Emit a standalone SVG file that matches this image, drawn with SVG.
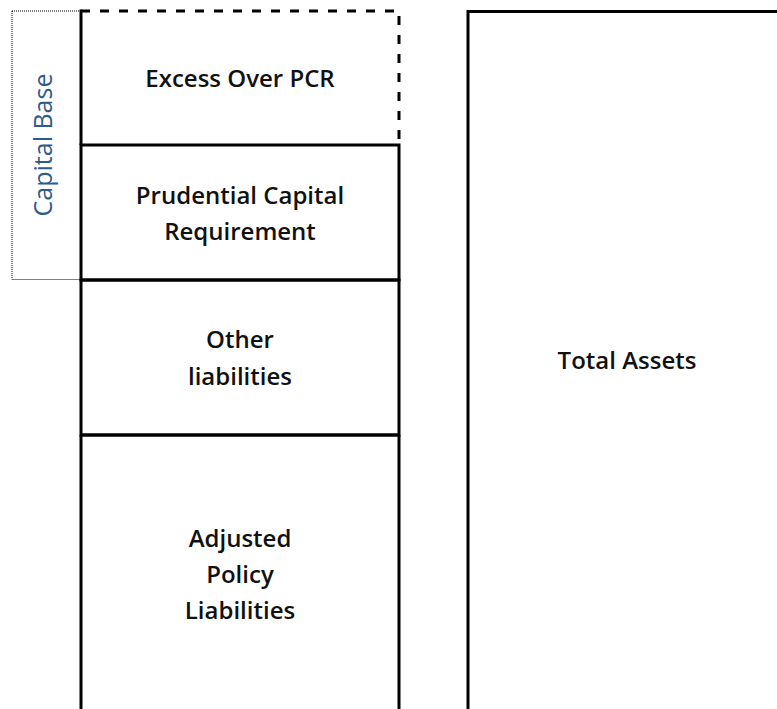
<svg xmlns="http://www.w3.org/2000/svg" width="777" height="709" viewBox="0 0 777 709">
<style>
.box{fill:none;stroke:#000;stroke-width:3}
.lbl{font-family:"Open Sans","Liberation Sans",sans-serif;font-size:24px;fill:#111;text-anchor:middle;font-weight:600}
.cap{font-family:"Open Sans","Liberation Sans",sans-serif;font-size:25px;fill:#2E5A8C;text-anchor:middle}
</style>
<rect width="777" height="709" fill="#fff"/>
<g id="capital-base">
<rect x="12" y="11" width="69" height="268.5" fill="none" stroke="#000" stroke-width="1" stroke-dasharray="1,1"/>
<text class="cap" transform="translate(52,145) rotate(-90)">Capital Base</text>
</g>
<g id="excess">
<path d="M81,11 H399 V145" fill="none" stroke="#000" stroke-width="3" stroke-dasharray="9,10"/>
<text class="lbl" x="240" y="87">Excess Over PCR</text>
</g>
<g id="pcr">
<rect class="box" x="81" y="145" width="318" height="135"/>
<text class="lbl" x="240" y="204">Prudential Capital</text>
<text class="lbl" x="240" y="240">Requirement</text>
</g>
<g id="other">
<rect class="box" x="81" y="280" width="318" height="155"/>
<text class="lbl" x="240" y="348">Other</text>
<text class="lbl" x="240" y="385">liabilities</text>
</g>
<g id="apl">
<path class="box" d="M81,435 H399 M81,435 V712 M399,435 V712"/>
<text class="lbl" x="240" y="547">Adjusted</text>
<text class="lbl" x="240" y="583">Policy</text>
<text class="lbl" x="240" y="619">Liabilities</text>
</g>
<g id="left-edge"><path class="box" d="M81,9.5 V145"/></g>
<g id="total-assets">
<rect class="box" x="468" y="11.5" width="330" height="710"/>
<text class="lbl" x="627" y="369">Total Assets</text>
</g>
<g id="connectors"/>
</svg>
